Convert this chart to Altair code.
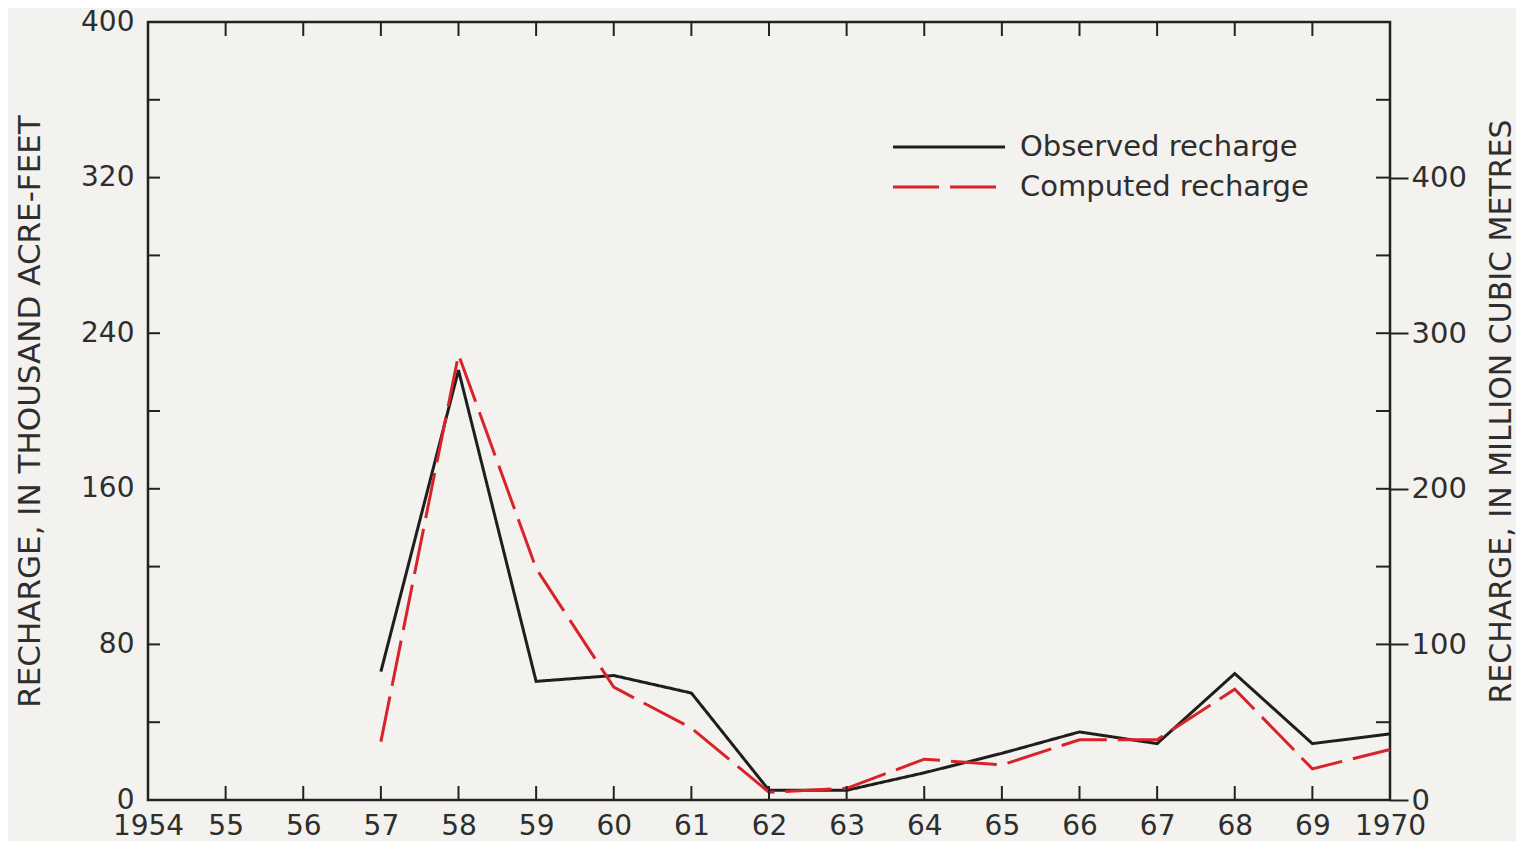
import altair as alt
import pandas as pd

# ---- data ----
years = [1957, 1958, 1959, 1960, 1961, 1962, 1963, 1964, 1965, 1966, 1967, 1968, 1969, 1970]
observed = [66, 221, 61, 64, 55, 5, 5, 14, 24, 35, 29, 65, 29, 34]
computed = [30, 229, 119, 58, 37, 4, 6, 21, 18, 31, 31, 57, 16, 26]
series_names = ["Observed recharge", "Computed recharge"]

axis_years = list(range(1954, 1971))
year_labels = ["1954", "55", "56", "57", "58", "59", "60", "61", "62", "63",
               "64", "65", "66", "67", "68", "69", "1970"]
inner_years = list(range(1955, 1970))
left_values = [0, 80, 160, 240, 320, 400]
left_minor = [40, 80, 120, 160, 200, 240, 280, 320, 360]
right_values = [0, 100, 200, 300, 400]
right_minor = [50, 100, 150, 200, 250, 300, 350, 400, 450]

left_title = "RECHARGE, IN THOUSAND ACRE-FEET"
right_title = "RECHARGE, IN MILLION CUBIC METRES"

W, H = 1242, 778
FONT = "DejaVu Sans"
TXT = "#2e2e2e"
LINE = "#222222"

df = pd.DataFrame({
    "year": years * 2,
    "value": observed + computed,
    "series": [series_names[0]] * len(years) + [series_names[1]] * len(years),
})

label_expr = "".join(
    f"datum.value == {y} ? '{l}' : " for y, l in zip(axis_years, year_labels)
) + "''"

xscale = alt.Scale(domain=[1954, 1970], nice=False, zero=False)
yscale = alt.Scale(domain=[0, 400], nice=False)
color_scale = alt.Scale(domain=series_names, range=["#1e1e1e", "#d8232a"])
dash_scale = alt.Scale(domain=series_names, range=[[1, 0], [46, 11]])

lines = alt.Chart(df).mark_line(strokeJoin="miter", strokeWidth=3, clip=False).encode(
    x=alt.X("year:Q", scale=xscale,
            axis=alt.Axis(values=axis_years, labelExpr=label_expr, ticks=False,
                          domain=False, grid=False, title=None, labelPadding=12,
                          labelFont=FONT, labelFontSize=28, labelColor=TXT,
                          labelFlush=False, labelOverlap=False)),
    y=alt.Y("value:Q", scale=yscale,
            axis=alt.Axis(values=left_values, ticks=False, domain=False, grid=False,
                          title=left_title, titleFont=FONT, titleFontSize=31,
                          titleFontWeight="normal", titleColor=TXT, titlePadding=34,
                          labelPadding=14, labelFont=FONT, labelFontSize=28,
                          labelColor=TXT, labelFlush=False)),
    color=alt.Color("series:N", scale=color_scale, legend=None),
    strokeDash=alt.StrokeDash("series:N", scale=dash_scale, legend=None),
)

# manual legend (line sample + label for each series)
legend_layers = []
for i, name in enumerate(series_names):
    ld = pd.DataFrame({"series": [name]})
    legend_layers.append(
        alt.Chart(ld).mark_rule(strokeWidth=3).encode(
            x=alt.value(745), x2=alt.value(857), y=alt.value(125 + 40 * i),
            color=alt.Color("series:N", scale=color_scale, legend=None),
            strokeDash=alt.StrokeDash("series:N", scale=dash_scale, legend=None)))
    legend_layers.append(
        alt.Chart(ld).mark_text(align="left", baseline="middle", font=FONT,
                                fontSize=29, color=TXT).encode(
            x=alt.value(872), y=alt.value(125 + 40 * i), text="series:N"))

tick_df = pd.DataFrame({"year": inner_years})
bottom_ticks = alt.Chart(tick_df).mark_rule(color=LINE, strokeWidth=2).encode(
    x=alt.X("year:Q", scale=xscale), y=alt.value(H), y2=alt.value(H - 14))
top_ticks = alt.Chart(tick_df).mark_rule(color=LINE, strokeWidth=2).encode(
    x=alt.X("year:Q", scale=xscale), y=alt.value(0), y2=alt.value(14))
left_ticks = alt.Chart(pd.DataFrame({"v": left_minor})).mark_rule(
    color=LINE, strokeWidth=2).encode(
    y=alt.Y("v:Q", scale=yscale), x=alt.value(0), x2=alt.value(12))

left_group = alt.layer(lines, bottom_ticks, top_ticks, left_ticks, *legend_layers)

right_ticks = alt.Chart(pd.DataFrame({"m": right_minor})).mark_rule(
    color=LINE, strokeWidth=2).encode(
    y=alt.Y("m:Q", scale=alt.Scale(domain=[0, 500], nice=False),
            axis=alt.Axis(orient="right", values=right_values, tickSize=18,
                          tickColor=LINE, tickWidth=2, domain=False, grid=False,
                          labelPadding=3, labelFont=FONT, labelFontSize=29,
                          labelColor=TXT, labelFlush=False,
                          title=right_title, titleFont=FONT, titleFontSize=30,
                          titleFontWeight="normal", titleColor=TXT, titlePadding=20,
                          titleAngle=270, titleBaseline="top")),
    x=alt.value(W), x2=alt.value(W - 14))

chart = alt.layer(left_group, right_ticks).resolve_scale(y="independent").properties(
    width=W, height=H,
    padding={"left": 140, "top": 14, "right": 126, "bottom": 41},
    autosize=alt.AutoSizeParams(type="none"),
    background="#f3f2ee",
).configure_view(stroke=LINE, strokeWidth=2.5)

chart.save("out.html", embed_options={"renderer": "svg", "actions": False})
